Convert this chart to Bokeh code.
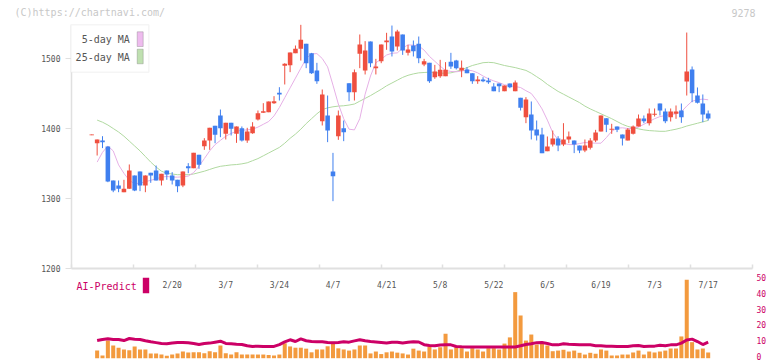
import math
import pandas as pd
from bokeh.plotting import figure
from bokeh.models import (Range1d, LinearAxis, FixedTicker, ColumnDataSource,
                          BoxAnnotation, Label, CustomJSTickFormatter)
from bokeh.embed import file_html
from bokeh.resources import INLINE

# ---------------- data ----------------
holidays = ["2025-02-11", "2025-02-24", "2025-03-20", "2025-04-29", "2025-05-05", "2025-05-06"]
days = [d for d in pd.bdate_range("2025-01-29", "2025-07-17") if d.strftime("%Y-%m-%d") not in holidays]
dates = [f"{d.month}/{d.day}" for d in days]
tick_labels = ["2/20", "3/7", "3/24", "4/7", "4/21", "5/8", "5/22", "6/5", "6/19", "7/3", "7/17"]

opens = [1390.5, 1379, 1383, 1374.3, 1325.7, 1318.6, 1309, 1313.8, 1332.9, 1338.6,
         1318.6, 1336.7, 1340, 1325.7, 1340, 1332.9, 1326.7, 1318.6, 1346.2, 1343.3,
         1362.4, 1374.8, 1382.9, 1403.8, 1418.6, 1392.4, 1408.1, 1392.4, 1400.5, 1382.9,
         1393.3, 1412.9, 1422.4, 1423.3, 1436.2, 1451, 1489.5, 1490.5, 1507.6, 1513.8,
         1521, 1507.6, 1482.9, 1410.5, 1418.6, 1338.6, 1389, 1400.5, 1464.8, 1451.9,
         1506.7, 1482.9, 1524.3, 1486.2, 1496.2, 1523.3, 1531.4, 1517.1, 1534.3, 1508.1,
         1518.6, 1521, 1491.4, 1493.8, 1473.3, 1474.8, 1474.8, 1495.2, 1497.1, 1482.9,
         1484.3, 1479, 1467.6, 1470, 1468.6, 1460, 1464.3, 1453.3, 1464.3, 1453.3,
         1443.8, 1416.2, 1420, 1398.6, 1391.4, 1367.6, 1377.1, 1385.7, 1377.1, 1384.3,
         1382.9, 1375.7, 1368.6, 1372.4, 1382.9, 1395.7, 1414.8, 1398.1, 1402.9, 1391.4,
         1382.9, 1392.4, 1402.9, 1414.3, 1407.6, 1419.5, 1435.7, 1424.3, 1416.2, 1420.9,
         1425.7, 1467.1, 1484.3, 1447.1, 1435.7, 1421.4]
highs = [1391.5, 1384.3, 1389, 1374.3, 1325.7, 1325.7, 1326.7, 1348.6, 1332.9, 1338.6,
         1333, 1336.7, 1347.1, 1335.2, 1340, 1337.6, 1326.7, 1338.6, 1350.5, 1365.2,
         1362.4, 1386.2, 1401, 1403.8, 1427.1, 1408.1, 1408.1, 1402.9, 1402.9, 1401,
         1409, 1425.7, 1436.2, 1438.6, 1446.2, 1459, 1493.3, 1508.6, 1518.6, 1548.1,
         1521, 1508, 1493.8, 1455.7, 1447.1, 1365.2, 1425.7, 1411.4, 1464.8, 1484.3,
         1534.3, 1524.8, 1524.3, 1499.5, 1520, 1536.7, 1547.1, 1541, 1534.3, 1519.5,
         1525.7, 1531.4, 1499.5, 1493.8, 1490.9, 1498.1, 1494.8, 1508.1, 1498.1, 1497.1,
         1487.6, 1479, 1474.8, 1473.3, 1472.4, 1464.8, 1464.3, 1461.4, 1464.3, 1468.6,
         1443.8, 1444.8, 1438.6, 1411.4, 1401, 1388.6, 1397.1, 1389, 1407.6, 1395.7,
         1382.9, 1375.7, 1384.3, 1386.2, 1398.1, 1418.6, 1414.8, 1406.7, 1402.9, 1391.4,
         1400.5, 1404.3, 1420, 1418.6, 1428.6, 1428.6, 1435.7, 1428.6, 1428.6, 1432.9,
         1435.7, 1537.1, 1488.6, 1458.6, 1448.6, 1425.7]
lows = [1390.5, 1361.4, 1372, 1323.3, 1309, 1309, 1309, 1313.8, 1310.5, 1310.5,
        1309, 1322.4, 1325.7, 1318.6, 1326.7, 1320, 1309, 1316.2, 1336.2, 1343.3,
        1342.4, 1369.5, 1369.5, 1379, 1387.6, 1384.3, 1390, 1379.5, 1381.4, 1379.5,
        1392.4, 1411.4, 1422.4, 1423.3, 1435.2, 1440, 1462.9, 1480.5, 1507.6, 1497.1,
        1486.2, 1478, 1463.8, 1404.3, 1380.5, 1296.2, 1383.8, 1381.9, 1439.1, 1440,
        1486.2, 1477.2, 1487.6, 1477.2, 1493.3, 1512.4, 1502.9, 1511.4, 1505.2, 1504.3,
        1502.9, 1493.3, 1489, 1465.2, 1471, 1472.4, 1474.8, 1485.2, 1484.3, 1473.3,
        1479, 1463.8, 1463.8, 1466.2, 1463.8, 1453.3, 1451.9, 1453.3, 1457.6, 1453.3,
        1425.7, 1407.6, 1384.3, 1382.9, 1364.8, 1367.6, 1374.3, 1367.6, 1374.8, 1379,
        1364.8, 1364.8, 1366.2, 1370, 1380.5, 1395.7, 1394.8, 1392.4, 1394.8, 1375.7,
        1382.9, 1391.4, 1402.9, 1407.6, 1404.3, 1417.1, 1418.6, 1407.6, 1410, 1413.8,
        1408.1, 1447.1, 1437.6, 1435.7, 1409, 1411.4]
closes = [1391.5, 1384.3, 1380.5, 1324.3, 1311.4, 1313.8, 1313.8, 1340, 1311.4, 1318.6,
          1332.9, 1332.9, 1325.7, 1335.2, 1334.3, 1325.7, 1317.6, 1338.6, 1343.3, 1365.2,
          1348.1, 1382.9, 1401, 1391, 1400.5, 1408.1, 1399.5, 1402.9, 1382.9, 1395.7,
          1402.9, 1421.9, 1424.8, 1438.6, 1439, 1448.6, 1492.4, 1508.6, 1513.8, 1526.7,
          1493.3, 1479, 1467.6, 1448.6, 1397.1, 1331.9, 1418.6, 1394.8, 1451.9, 1480.5,
          1520, 1511.4, 1493.3, 1488.6, 1520, 1525.7, 1510, 1538.6, 1511.4, 1512.9,
          1510.5, 1500.5, 1496.2, 1467.6, 1481.4, 1483.8, 1483.8, 1488.6, 1486.2, 1486.7,
          1479, 1467.6, 1470, 1467.6, 1466.2, 1453.3, 1460.5, 1461.4, 1459.1, 1465.7,
          1429.5, 1441.4, 1397.1, 1390, 1364.8, 1374.3, 1385.7, 1375.7, 1384.3, 1388.6,
          1377.1, 1368.6, 1375.7, 1382.9, 1394.3, 1418.6, 1405.2, 1399.6, 1398.1, 1385.7,
          1398.6, 1402.9, 1414.3, 1410.5, 1421.4, 1421.2, 1425.7, 1410.5, 1424.3, 1424.3,
          1416.2, 1481.4, 1450.5, 1436.7, 1420, 1414.3]
ma5 = [math.nan, 1352, 1366, 1375, 1368, 1348, 1336, 1326, 1321, 1322,
       1324, 1326, 1328, 1330.5, 1331.5, 1330.5, 1330.5, 1331, 1332, 1337,
       1346, 1357, 1368, 1377, 1383, 1389, 1393, 1396, 1397.5, 1398,
       1399, 1402, 1406, 1410, 1418, 1430, 1444, 1458, 1472, 1486,
       1500, 1506.5, 1507, 1500, 1488, 1462, 1435, 1414, 1399, 1398,
       1414, 1449, 1475, 1494, 1499, 1505, 1507.5, 1508, 1515, 1519.5,
       1519, 1518, 1512, 1503, 1496, 1489, 1483, 1481.5, 1481, 1482,
       1483.5, 1482.5, 1479.5, 1475, 1471, 1468, 1465.5, 1462.5, 1461, 1460,
       1458.5, 1454, 1450, 1440, 1428, 1412, 1394, 1384, 1379, 1377,
       1377, 1378.5, 1380, 1379.5, 1379, 1379, 1387, 1396, 1400.5, 1401,
       1400, 1400, 1402, 1406, 1410, 1414, 1417, 1418.5, 1420, 1421,
       1424, 1432, 1439, 1441, 1442, 1441]
ma25 = [math.nan, 1412, 1409, 1405, 1400, 1395, 1389, 1382, 1375, 1368,
        1360, 1352, 1345, 1339, 1336, 1335, 1334, 1334, 1334, 1335,
        1337, 1339, 1341.5, 1344, 1346, 1347, 1348, 1348.5, 1349.5, 1351,
        1354, 1357, 1361, 1365, 1369, 1373, 1379, 1386, 1392, 1399,
        1407, 1414, 1421, 1427, 1429.5, 1431, 1432, 1432.5, 1433.5, 1435,
        1439, 1443, 1447, 1451.5, 1456, 1461, 1465, 1469, 1473, 1476,
        1478, 1479.5, 1480, 1480.5, 1480, 1479, 1479, 1479.5, 1481.5, 1484,
        1487, 1490, 1492, 1494, 1494.5, 1494, 1492, 1490, 1488.5, 1487,
        1485, 1483, 1479, 1474, 1469, 1463, 1458, 1453, 1449, 1445,
        1441, 1437, 1432, 1428, 1424.5, 1421, 1417.5, 1414, 1410, 1406,
        1403, 1401, 1399.5, 1398, 1397, 1396.5, 1396, 1396, 1397.5, 1399,
        1401, 1403.5, 1405.5, 1407.5, 1409.5, 1411.5]
volume = [math.nan, 4.8, 1.7, 11.1, 8.0, 6.5, 5.5, 5.0, 7.4, 5.5,
          5.5, 3.0, 3.0, 2.3, 1.5, 2.3, 3.0, 4.2, 3.6, 3.7,
          3.7, 3.1, 4.3, 3.7, 8.0, 3.1, 2.3, 3.7, 2.3, 2.3,
          2.3, 2.3, 2.3, 2.0, 1.7, 2.3, 9.4, 7.4, 6.6, 6.6,
          6.0, 3.7, 5.5, 5.5, 7.5, 10.3, 6.2, 5.5, 4.8, 5.5,
          8.0, 8.0, 3.0, 4.2, 2.6, 3.7, 4.2, 3.5, 3.0, 2.3,
          6.0, 4.8, 4.2, 7.4, 5.5, 6.9, 15.4, 5.5, 6.9, 6.3,
          4.2, 6.3, 5.5, 4.2, 6.3, 6.3, 5.5, 9.2, 13.1, 41.6,
          26.9, 11.1, 14.9, 8.6, 9.5, 8.0, 4.4, 4.8, 5.3, 4.2,
          4.8, 3.4, 2.3, 3.4, 2.8, 5.5, 4.8, 1.7, 1.7, 2.3,
          2.3, 3.6, 4.8, 2.3, 4.2, 3.6, 4.2, 4.8, 6.1, 6.1,
          13.7, 49.4, 10.1, 5.5, 6.1, 3.6]
ai_predict = [math.nan, 11.1, 11.8, 12.2, 11.8, 11.8, 11.1, 12.4, 12.0, 11.8,
              11.0, 10.3, 9.8, 9.3, 9.1, 9.5, 9.9, 9.9, 9.7, 9.2,
              8.6, 9.2, 9.5, 10.1, 10.7, 9.3, 9.1, 8.8, 8.6, 7.8,
              7.4, 7.6, 7.4, 7.4, 7.4, 8.6, 10.3, 11.6, 10.5, 12.2,
              11.0, 10.5, 10.3, 10.4, 9.9, 9.7, 9.9, 10.3, 10.1, 10.9,
              11.6, 11.0, 10.5, 10.2, 9.9, 9.6, 10.0, 10.1, 9.6, 10.0,
              10.4, 10.2, 8.5, 8.0, 7.8, 8.3, 8.4, 8.4, 7.4, 7.2,
              7.1, 7.1, 7.1, 7.1, 7.1, 7.1, 7.1, 7.1, 7.1, 7.1,
              7.8, 8.6, 9.1, 9.8, 9.9, 9.3, 8.4, 8.4, 9.1, 8.8,
              8.6, 8.4, 8.4, 8.4, 7.9, 7.8, 7.6, 7.5, 7.4, 7.4,
              7.4, 7.8, 8.0, 7.4, 7.6, 7.6, 8.2, 7.8, 8.4, 8.4,
              9.5, 11.5, 12.0, 10.5, 8.6, 10.1]
price_ticks = [1200, 1300, 1400, 1500]
volume_ticks = [0, 10, 20, 30, 40, 50]

# ---------------- styling ----------------
UP, DOWN = "#ef4f3f", "#3f7fef"
MONO = "DejaVu Sans Mono"
AXIS_GRAY = "#e0e0e0"
CRIMSON = "#cc0066"

# view window (index units / price units) -- the frame fills the whole canvas
X_LEFT, X_RIGHT = -17.03, 127.0
AX_LEFT, AX_RIGHT = -3.79, 123.26

x = list(range(len(dates)))
colors = [UP if c >= o else DOWN for o, c in zip(opens, closes)]
src = ColumnDataSource(dict(
    x=x, high=highs, low=lows,
    top=[max(o, c) for o, c in zip(opens, closes)],
    bottom=[min(o, c) for o, c in zip(opens, closes)],
    color=colors))

p = figure(width=772, height=361, output_backend="svg", toolbar_location=None,
           x_range=Range1d(X_LEFT, X_RIGHT), y_range=Range1d(1067.14, 1582.86),
           x_axis_location=None, y_axis_location=None,
           min_border=0, min_border_left=0, min_border_right=0,
           min_border_top=0, min_border_bottom=0,
           outline_line_color=None, background_fill_color="white", border_fill_color="white")
# volume scale, plus a copy lifted ~1.5px for its tick labels so "0" is not cut at the bottom edge
p.extra_y_ranges = {"vol": Range1d(-2.08, 225.25), "vol_labels": Range1d(-3.02, 224.31)}
for g in p.grid:
    g.visible = False

# volume + AI predict
p.vbar(x=x, top=volume, bottom=0, width=0.75, y_range_name="vol",
       fill_color="#f39a3e", line_color=None)
p.line(x=x, y=ai_predict, y_range_name="vol", line_color=CRIMSON, line_width=3)

# moving averages
p.line(x=x, y=ma25, line_color="#b0d9a0", line_width=1)
p.line(x=x, y=ma5, line_color="#e6b0e6", line_width=1)

# candles
p.segment(x0="x", y0="low", x1="x", y1="high", line_color="color", line_width=1, source=src)
p.vbar(x="x", width=0.85, top="top", bottom="bottom", fill_color="color", line_color=None, source=src)

# axes (fixed inside the full-canvas frame)
yax = LinearAxis(fixed_location=AX_LEFT, ticker=FixedTicker(ticks=price_ticks), bounds=(1200, 1547),
                 axis_line_color=AXIS_GRAY, axis_line_width=1.5,
                 major_tick_line_color=AXIS_GRAY, major_tick_out=6, major_tick_in=0,
                 minor_tick_line_color=None, major_label_standoff=5,
                 major_label_text_font=MONO, major_label_text_font_size="8px",
                 major_label_text_color="#555555")
p.add_layout(yax, "left")

grid_ticks = [AX_LEFT + k * ((AX_RIGHT - AX_LEFT) / 11) for k in range(12)]
xtick_axis = LinearAxis(fixed_location=1200, ticker=FixedTicker(ticks=grid_ticks),
                        bounds=(AX_LEFT, AX_RIGHT),
                        formatter=CustomJSTickFormatter(code="return ''"),
                        axis_line_color=AXIS_GRAY, axis_line_width=2,
                        major_tick_line_color=AXIS_GRAY, major_tick_line_width=1.5,
                        major_tick_in=4, major_tick_out=0, minor_tick_line_color=None)
p.add_layout(xtick_axis, "below")

label_pos = [dates.index(t) for t in tick_labels]
date_axis = LinearAxis(fixed_location=1200, ticker=FixedTicker(ticks=label_pos),
                       major_label_overrides={i: dates[i] for i in label_pos},
                       axis_line_color=None, major_tick_line_color=None,
                       minor_tick_line_color=None, major_tick_in=0, major_tick_out=0,
                       major_label_standoff=13, major_label_text_font=MONO,
                       major_label_text_font_size="8px", major_label_text_color="#555555")
p.add_layout(date_axis, "below")

vax = LinearAxis(fixed_location=AX_RIGHT, y_range_name="vol_labels",
                 ticker=FixedTicker(ticks=volume_ticks),
                 axis_line_color=None, major_tick_line_color=None, minor_tick_line_color=None,
                 major_tick_in=0, major_tick_out=0, major_label_standoff=4,
                 major_label_text_font=MONO, major_label_text_font_size="8px",
                 major_label_text_color=CRIMSON)
p.add_layout(vax, "right")

# watermark texts (screen units, frame = canvas)
p.add_layout(Label(x=14, y=348.7, x_units="screen", y_units="screen",
                   text="(C)https://chartnavi.com/", text_font=MONO, text_font_size="10px",
                   text_color="#c8c8c8", text_baseline="middle", text_align="left"))
p.add_layout(Label(x=755, y=348.7, x_units="screen", y_units="screen",
                   text="9278", text_font=MONO, text_font_size="10px",
                   text_color="#c8c8c8", text_baseline="middle", text_align="right"))

# MA legend
def screen_box(left, right, bottom, top, **kw):
    return BoxAnnotation(left=left, right=right, bottom=bottom, top=top,
                         left_units="screen", right_units="screen",
                         top_units="screen", bottom_units="screen", **kw)

p.add_layout(screen_box(70.5, 148.3, 289.3, 336.7, fill_color="white", fill_alpha=1,
                        line_color="#dddddd", line_width=1.5))
legend_items = [("5-day MA", "#eebbee", 321.7, 315, 329.7),
                ("25-day MA", "#bfe0b0", 304.3, 297.7, 312.3)]
for text, fill, cy, b, t in legend_items:
    p.add_layout(Label(x=129.3, y=cy, x_units="screen", y_units="screen", text=text,
                       text_font=MONO, text_font_size="10px", text_color="#555555",
                       text_baseline="middle", text_align="right"))
    p.add_layout(screen_box(136.7, 142.7, b, t, fill_color=fill, fill_alpha=1,
                            line_color="#666666", line_width=1))

# AI-Predict legend
p.add_layout(Label(x=76, y=75, x_units="screen", y_units="screen", text="AI-Predict",
                   text_font=MONO, text_font_size="10px", text_color=CRIMSON,
                   text_baseline="middle", text_align="left"))
p.add_layout(screen_box(142.3, 148.7, 68.3, 83.7, fill_color=CRIMSON, fill_alpha=1, line_color=None))

open("out.html", "w").write(file_html(p, INLINE))
